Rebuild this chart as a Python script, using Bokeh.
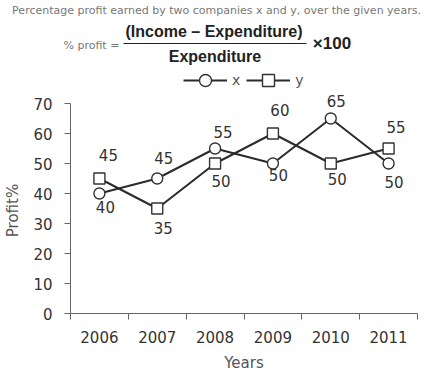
import math
from bokeh.plotting import figure
from bokeh.layouts import column, row
from bokeh.models import ColumnDataSource, Range1d, FixedTicker, Label, BoxAnnotation
from bokeh.embed import file_html
from bokeh.resources import INLINE
from bokeh.core.properties import value

# ---- data ----
years = [2006, 2007, 2008, 2009, 2010, 2011]
profit_x = [40, 45, 55, 50, 65, 50]
profit_y = [45, 35, 50, 60, 50, 55]
y_ticks = [0, 10, 20, 30, 40, 50, 60, 70]

title_text = "Percentage profit earned by two companies x and y, over the given years."

# ---- label placement (style, screen px; y positive = down) ----
x_lbl_dx = [6, 6.5, 8, 5.5, 5.5, 5.5]
x_lbl_dy = [13, -21, -17, 11, -18, 18]
y_lbl_dx = [9, 6, 6, 7, 6.5, 7.5]
y_lbl_dy = [-24, 19, 17, -24, 15, -22]

FONT = "DejaVu Sans"
DARK = "#2b2b2b"

W, H = 431, 378
HEAD_H = 66
LEFT_W = 24
MAIN_H = H - HEAD_H


def blank(width, height):
    f = figure(width=width, height=height, x_axis_type=None, y_axis_type=None,
               x_range=Range1d(0, width), y_range=Range1d(0, height),
               output_backend="svg", toolbar_location=None,
               min_border=0, min_border_left=0, min_border_right=0,
               min_border_top=0, min_border_bottom=0)
    f.outline_line_color = None
    f.background_fill_color = "white"
    f.border_fill_color = "white"
    return f


# ---------- header ----------
head = blank(W, HEAD_H)


def hlabel(x, y_img, text, **kw):
    head.add_layout(Label(x=x, y=HEAD_H - y_img, x_units="screen", y_units="screen",
                          text=text, text_baseline="middle", **kw))


hlabel(216, 10, title_text, text_align="center", text_font=FONT,
       text_font_size="11px", text_color="#777777")
hlabel(63, 45, "% profit =", text_align="left", text_font=FONT,
       text_font_size="11px", text_color="#777777")
hlabel(213.5, 31, "(Income \u2013 Expenditure)", text_align="center",
       text_font="Liberation Sans", text_font_style="bold",
       text_font_size="16px", text_color="#222222")
hlabel(214.5, 56, "Expenditure", text_align="center",
       text_font="Liberation Sans", text_font_style="bold",
       text_font_size="16px", text_color="#222222")
hlabel(331.5, 42.5, "\u00d7100", text_align="center",
       text_font="Liberation Sans", text_font_style="bold",
       text_font_size="17px", text_color="#222222")
head.add_layout(BoxAnnotation(left=123, right=306, bottom=HEAD_H - 43.6, top=HEAD_H - 42.6,
                              left_units="screen", right_units="screen",
                              bottom_units="screen", top_units="screen",
                              fill_color="#222222", fill_alpha=1, line_color=None))

# ---------- y axis title strip ----------
left = blank(LEFT_W, MAIN_H)
left.add_layout(Label(x=12, y=103, x_units="screen", y_units="screen", text="Profit%",
                      angle=math.pi / 2, text_align="center", text_baseline="middle",
                      text_font=FONT, text_font_size="15px", text_color="#555555"))

# ---------- main chart ----------
frame_bottom_img = 313
px_per_unit = 3.0
y_top = (frame_bottom_img - HEAD_H) / px_per_unit

p = figure(width=W - LEFT_W, height=MAIN_H,
           x_range=Range1d(years[0] - 0.5, years[-1] + 0.5),
           y_range=Range1d(0, y_top),
           output_backend="svg", toolbar_location=None,
           min_border_left=70 - LEFT_W, min_border_right=14,
           min_border_top=0, min_border_bottom=H - frame_bottom_img)

p.grid.visible = False
p.outline_line_color = None
p.background_fill_color = "white"
p.border_fill_color = "white"

p.xaxis.ticker = FixedTicker(ticks=years,
                             minor_ticks=[y - 0.5 for y in years] + [years[-1] + 0.5])
p.xaxis.major_tick_out = 0
p.xaxis.major_tick_in = 0
p.xaxis.minor_tick_out = 6
p.xaxis.minor_tick_in = 0
p.xaxis.major_label_standoff = 11
p.xaxis.axis_label = "Years"
p.xaxis.axis_label_standoff = 8

p.yaxis.ticker = FixedTicker(ticks=y_ticks)
p.yaxis.bounds = (0, 70)
p.yaxis.major_tick_out = 6
p.yaxis.major_tick_in = 0
p.yaxis.minor_tick_out = 0
p.yaxis.minor_tick_in = 0
p.yaxis.major_label_standoff = 12

for ax in (p.xaxis, p.yaxis):
    ax.axis_line_color = "#666666"
    ax.major_tick_line_color = "#666666"
    ax.minor_tick_line_color = "#666666"
    ax.major_label_text_font = FONT
    ax.major_label_text_font_size = "15px"
    ax.major_label_text_color = "#333333"
    ax.axis_label_text_font = FONT
    ax.axis_label_text_font_size = "15px"
    ax.axis_label_text_font_style = "normal"
    ax.axis_label_text_color = "#555555"

p.line(years, profit_x, line_color=DARK, line_width=2, legend_label="x")
p.line(years, profit_y, line_color=DARK, line_width=2, legend_label="y")
p.scatter(years, profit_x, marker="circle", size=11, fill_color="white",
          line_color="#333333", line_width=1.4, legend_label="x")
p.scatter(years, profit_y, marker="square", size=11, fill_color="white",
          line_color="#333333", line_width=1.4, legend_label="y")

src_x = ColumnDataSource(dict(x=years, y=profit_x, t=[str(v) for v in profit_x],
                              dx=x_lbl_dx, dy=x_lbl_dy))
src_y = ColumnDataSource(dict(x=years, y=profit_y, t=[str(v) for v in profit_y],
                              dx=y_lbl_dx, dy=y_lbl_dy))
for src in (src_x, src_y):
    p.text(x="x", y="y", text="t", x_offset="dx", y_offset="dy", source=src,
           text_align="center", text_baseline="middle",
           text_font=value(FONT), text_font_size="15px", text_color="#333333")

leg = p.legend[0]
leg.location = (113, frame_bottom_img - 95)
leg.orientation = "horizontal"
leg.glyph_width = 44
leg.glyph_height = 30
leg.label_height = 30
leg.label_width = 8
leg.label_standoff = 5
leg.spacing = 6
leg.padding = 0
leg.margin = 0
leg.border_line_color = None
leg.background_fill_alpha = 0
leg.label_text_font = FONT
leg.label_text_font_size = "14px"
leg.label_text_color = "#555555"

layout = column(head, row(left, p))
open("out.html", "w").write(file_html(layout, INLINE))
